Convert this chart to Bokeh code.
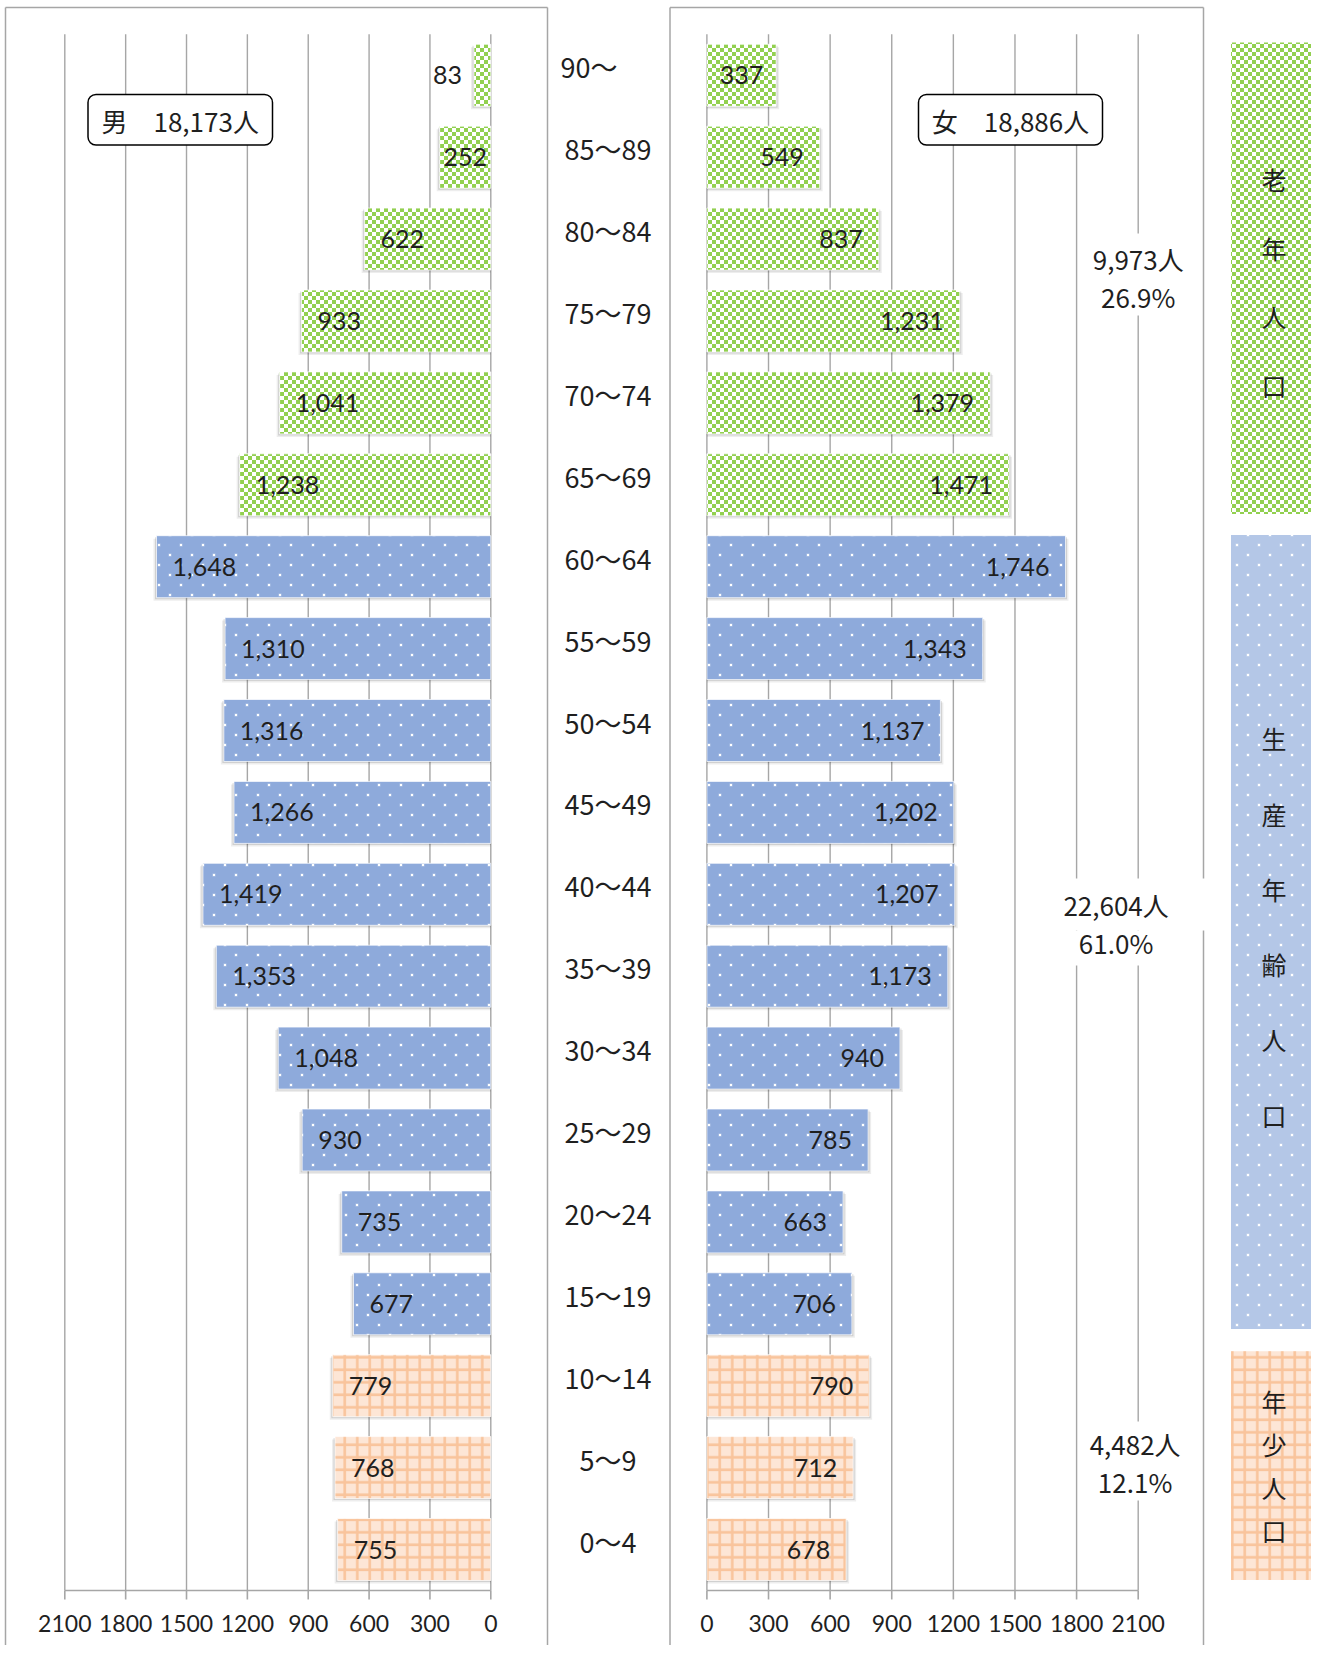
from bokeh.plotting import figure
from bokeh.models import Range1d, ColumnDataSource, BoxAnnotation, CanvasTexture
from bokeh.core.properties import value
from bokeh.embed import file_html
from bokeh.resources import INLINE

# ---------------- data (bottom -> top) ----------------
age_groups = ["0～4", "5～9", "10～14", "15～19", "20～24", "25～29", "30～34",
              "35～39", "40～44", "45～49", "50～54", "55～59", "60～64",
              "65～69", "70～74", "75～79", "80～84", "85～89", "90～"]
male = [755, 768, 779, 677, 735, 930, 1048, 1353, 1419, 1266, 1316, 1310, 1648,
        1238, 1041, 933, 622, 252, 83]
female = [678, 712, 790, 706, 663, 785, 940, 1173, 1207, 1202, 1137, 1343, 1746,
          1471, 1379, 1231, 837, 549, 337]
segment = ["young"] * 3 + ["work"] * 10 + ["old"] * 6
segment_order = ["old", "work", "young"]
segment_names = {"old": "老年人口", "work": "生産年齢人口", "young": "年少人口"}
axis_ticks = [0, 300, 600, 900, 1200, 1500, 1800, 2100]
axis_tick_labels = ["0", "300", "600", "900", "1200", "1500", "1800", "2100"]
male_title = "男"
female_title = "女"

# ---------------- layout / style ----------------
PX0, PY0 = 0, 0
W, H = 1311, 1645
Y0_PAGE = 1549.0          # page y of the first age class centre
STEP = 81.9               # px between age classes
BAR_H = 0.757
L_ZERO, L_MAX = 490.3, 64.3
R_ZERO, R_MAX = 706.4, 1137.7
XMAX = axis_ticks[-1]
LS = (L_ZERO - L_MAX) / XMAX
RS = (R_MAX - R_ZERO) / XMAX
GRID = "#a6a6a6"
TXT = "#1f1f1f"
NUM_FONT = value("Lato")
JP_FONT = value("Noto Sans CJK JP")

p = figure(width=W, height=H, output_backend="svg", toolbar_location=None,
           x_range=Range1d(PX0, PX0 + W), y_range=Range1d(PY0 + H, PY0),
           x_axis_location=None, y_axis_location=None, min_border=0,
           outline_line_color=None, background_fill_color="white",
           border_fill_color="white")
p.xgrid.visible = False
p.ygrid.visible = False
p.extra_x_ranges = {
    "m": Range1d((L_ZERO - PX0) / LS, (L_ZERO - (PX0 + W)) / LS),
    "f": Range1d((PX0 - R_ZERO) / RS, (PX0 + W - R_ZERO) / RS),
}
p.extra_y_ranges = {"c": Range1d((Y0_PAGE - (PY0 + H)) / STEP, (Y0_PAGE - PY0) / STEP)}

# ---------------- fill textures ----------------
CHECKER_JS = """
const c = ctx.canvas; c.width = 8; c.height = 8;
ctx.clearRect(0, 0, 8, 8);
ctx.fillStyle = "#92d050";
ctx.fillRect(0, 0, 4, 4); ctx.fillRect(4, 4, 4, 4);
"""
DOTS_JS = """
const c = ctx.canvas; c.width = 22; c.height = 20;
ctx.clearRect(0, 0, 22, 20);
ctx.fillStyle = "rgba(255,255,255,0.35)";
ctx.fillRect(3.5, 3.5, 3, 3); ctx.fillRect(14.5, 13.5, 3, 3);
ctx.fillStyle = "#ffffff";
ctx.fillRect(4, 4, 2, 2); ctx.fillRect(15, 14, 2, 2);
"""
textures = {"checker": CanvasTexture(code=CHECKER_JS), "dots": CanvasTexture(code=DOTS_JS)}

styles = {
    "old": dict(fill_color="white", hatch_pattern=value("checker"), hatch_color="#92d050",
                hatch_extra=textures),
    "work": dict(fill_color="#8eaadb", hatch_pattern=value("dots"), hatch_color="white",
                 hatch_extra=textures),
    "young": dict(fill_color="#fde6d6", hatch_pattern="cross", hatch_color="#f9c49c",
                  hatch_scale=12.5, hatch_weight=2.6),
}
strip_fill = {"old": "white", "work": "#b4c7e7", "young": "#fde6d6"}

# ---------------- panel frames ----------------
border = dict(line_color=GRID, line_width=1.5)
for left, right in [(5, 547), (669.5, 1203)]:
    p.segment(x0=[left, left, right], y0=[7, 7, 7], x1=[left, right, right],
              y1=[PY0 + H, 7, PY0 + H], **border)

n = len(age_groups)
idx = list(range(n))

# ---------------- gridlines + axes ----------------
for rng in ["m", "f"]:
    k = len(axis_ticks)
    p.segment(x0=axis_ticks, x1=axis_ticks, y0=[-0.5] * k, y1=[n - 0.5] * k,
              x_range_name=rng, y_range_name="c", line_color=GRID, line_width=1.4)
    p.segment(x0=[axis_ticks[0]], x1=[axis_ticks[-1]], y0=[-0.5], y1=[-0.5],
              x_range_name=rng, y_range_name="c", line_color=GRID, line_width=1.6)
    p.segment(x0=axis_ticks, x1=axis_ticks, y0=[-0.5] * k, y1=[-0.5 - 9 / STEP] * k,
              x_range_name=rng, y_range_name="c", line_color=GRID, line_width=1.6)
    p.text(x=axis_ticks, y=[-0.5 - 33 / STEP] * k, text=axis_tick_labels,
           x_range_name=rng, y_range_name="c", text_font=NUM_FONT,
           text_font_size="23px", text_color=TXT, text_align="center",
           text_baseline="middle")


# ---------------- bars ----------------
def label_layout(v, scale, side):
    txt = f"{v:,}"
    w_est = sum(6 if c == "," else 14 for c in txt)
    bw = v * scale
    s = 1 if side == "m" else -1
    if bw >= w_est + 30:
        return txt, v, ("left" if side == "m" else "right"), 16 * s
    if bw >= w_est:
        return txt, v / 2, "center", 0
    return txt, v, ("right" if side == "m" else "left"), -12 * s


for side, vals, scale in [("m", male, LS), ("f", female, RS)]:
    # soft drop shadow
    p.hbar(y=[i - 3 / STEP for i in idx], height=BAR_H, left=0,
           right=[v + 3 / scale for v in vals], x_range_name=side, y_range_name="c",
           fill_color="black", fill_alpha=0.07, line_color=None)
    p.hbar(y=[i - 1.5 / STEP for i in idx], height=BAR_H, left=0,
           right=[v + 1.5 / scale for v in vals], x_range_name=side, y_range_name="c",
           fill_color="black", fill_alpha=0.12, line_color=None)
    for seg in segment_order:
        sel = [i for i in idx if segment[i] == seg]
        src = ColumnDataSource(dict(y=sel, v=[vals[i] for i in sel]))
        p.hbar(y="y", height=BAR_H, left=0, right="v", source=src,
               x_range_name=side, y_range_name="c", line_color="white",
               line_alpha=0.7, line_width=1, **styles[seg])
    lay = [label_layout(v, scale, side) for v in vals]
    lsrc = ColumnDataSource(dict(x=[l[1] for l in lay], y=idx, t=[l[0] for l in lay],
                                 a=[l[2] for l in lay], o=[l[3] for l in lay]))
    p.text(x="x", y="y", text="t", text_align="a", x_offset="o", source=lsrc,
           x_range_name=side, y_range_name="c", text_font=NUM_FONT,
           text_font_size="25px", text_color=TXT, text_baseline="middle")

# ---------------- age class labels (centre) ----------------
age_src = ColumnDataSource(dict(
    x=[607.5] * n, y=[i + 8.5 / STEP for i in idx], t=age_groups,
    o=[-19 if a.endswith("～") else 0 for a in age_groups]))
p.text(x="x", y="y", text="t", x_offset="o", source=age_src,
       y_range_name="c", text_font=JP_FONT, text_font_size="27px",
       text_color=TXT, text_align="center", text_baseline="middle")

# ---------------- totals boxes ----------------
male_total = f"{male_title}　{sum(male):,}人"
female_total = f"{female_title}　{sum(female):,}人"
for (l, r, cx), txt in [((87.5, 272, 179.7), male_total), ((918, 1102, 1010), female_total)]:
    p.add_layout(BoxAnnotation(left=l, right=r, top=94, bottom=144.5, fill_color="white",
                               fill_alpha=1, line_color="black", line_alpha=1,
                               line_width=1.5, border_radius=8))
    t = p.text(x=[cx], y=[119.5], text=[txt], text_font=JP_FONT, text_font_size="26px",
               text_color=TXT, text_align="center", text_baseline="middle")
    t.level = "overlay"

# ---------------- segment summaries ----------------
total = sum(male) + sum(female)
seg_tot = {s: sum(male[i] + female[i] for i in idx if segment[i] == s) for s in segment_order}
summary_pos = {"old": (1137.7, 277.3, [(1092, 1184, 233, 315)]),
               "work": (1115.6, 923.2, [(1068, 1206, 878, 930), (1068, 1198, 930, 965)]),
               "young": (1134.6, 1462.3, [(1090, 1180, 1421, 1500)])}
for s in segment_order:
    cx, cy, boxes = summary_pos[s]
    p.quad(left=[b[0] for b in boxes], right=[b[1] for b in boxes],
           top=[b[2] for b in boxes], bottom=[b[3] for b in boxes],
           fill_color="white", line_color=None)
    p.text(x=[cx], y=[cy], text=[f"{seg_tot[s]:,}人\n{seg_tot[s] / total * 100:.1f}%"],
           text_font=JP_FONT, text_font_size="26px", text_color=TXT,
           text_align="center", text_baseline="middle", text_line_height=1.02)

# ---------------- legend strip ----------------
strip = {"old": (42, 513.5, 281.5, 1.914), "work": (534.6, 1328.5, 926, 2.089),
         "young": (1350.7, 1579.5, 1465, 1.201)}
for s in segment_order:
    top, bot, cy, lh = strip[s]
    st = dict(styles[s])
    st["fill_color"] = strip_fill[s]
    p.quad(left=[1230.5], right=[1316], top=[top], bottom=[bot], line_color=None, **st)
    p.text(x=[1273.5], y=[cy], text=["\n".join(segment_names[s])], text_font=JP_FONT,
           text_font_size="25px", text_color=TXT, text_align="center",
           text_baseline="middle", text_line_height=lh)

open("out.html", "w").write(file_html(p, INLINE))
